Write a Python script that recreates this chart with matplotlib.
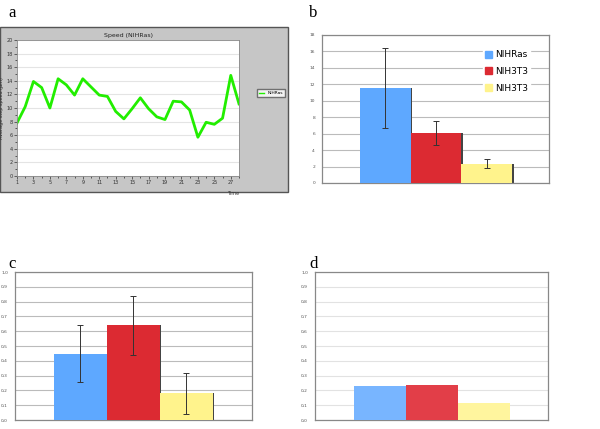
import matplotlib
matplotlib.use("Agg")
import matplotlib.pyplot as plt
from matplotlib.patches import Rectangle
from matplotlib.lines import Line2D
import numpy as np

# ---- data ----
times = list(range(1, 29))
speed = [7.8, 10.2, 13.9, 13.0, 10.0, 14.3, 13.4, 11.9, 14.3, 13.1, 11.9, 11.7,
         9.5, 8.4, 9.9, 11.5, 9.9, 8.7, 8.3, 11.0, 10.9, 9.7, 5.7, 7.9, 7.6, 8.5,
         14.8, 10.6]
groups = ["NIHRas", "NIH3T3", "NIH3T3"]
b_vals = [11.6, 6.1, 2.35]
b_err = [4.85, 1.5, 0.52]
c_vals = [0.449, 0.641, 0.18]
c_err = [0.19, 0.2, 0.14]
d_vals = [0.228, 0.237, 0.115]

W, H = 600, 429
fig = plt.figure(figsize=(6, 4.29), dpi=100)

def ax_px(x0, y0, x1, y1):
    return fig.add_axes([x0 / W, 1 - y1 / H, (x1 - x0) / W, (y1 - y0) / H])

# letters
for lab, x, y in [("a", 8, 17), ("b", 309, 17), ("c", 8, 268), ("d", 309, 268)]:
    fig.text(x / W, 1 - y / H, lab, fontsize=12, family="Liberation Serif")

# ---- panel a ----
fig.patches.append(Rectangle((0, 1 - 192 / H), 288 / W, (192 - 27) / H,
                             transform=fig.transFigure, facecolor="#c6c6c6",
                             edgecolor="#555555", lw=1.0, zorder=-5))
axa = ax_px(17, 40, 239, 176)
axa.set_zorder(3)
axa.plot(times, speed, color="#22ee00", lw=2.0)
axa.set_xlim(1, 28)
axa.set_ylim(0, 20)
axa.set_yticks(np.arange(0, 21, 2))
axa.set_yticks(np.arange(0, 21, 1), minor=True)
axa.set_xticks(times, minor=True)
axa.set_xticks(list(range(1, 28, 2)))
axa.tick_params(labelsize=3.5, length=2, width=0.5, pad=1, colors="#333333")
axa.tick_params(which="minor", length=1.2, width=0.4)
axa.grid(axis="y", color="#e4e4e4", lw=0.8)
axa.set_axisbelow(True)
for s in axa.spines.values():
    s.set_color("#888888")
    s.set_linewidth(0.6)
axa.set_title("Speed (NIHRas)", fontsize=4.5, pad=2, color="#222222")
axa.set_ylabel("Average step speed (µm)", fontsize=3.5, labelpad=2, color="#333333")
axa.text(1.0, -0.11, "Time", transform=axa.transAxes, fontsize=3.5, ha="right",
         va="top", color="#333333")
leg = axa.legend([Line2D([0], [0], color="#22ee00", lw=1)], ["NIHRas"],
                 loc="center left", bbox_to_anchor=(1.07, 0.61), fontsize=3.2,
                 frameon=True, fancybox=False, edgecolor="#555555",
                 handlelength=1.2, borderpad=0.4)

colors_bc = ["#5ea8ff", "#dc2a32", "#fff38c"]
colors_d = ["#78b5ff", "#e23e48", "#fff59e"]

def bar_panel(ax, vals, errs, colors, ymax, step, fmt, grid_col, shadow=True):
    x = np.arange(len(vals))
    if shadow:
        ax.bar(x + 0.03, vals, width=1.0, color="#444444", zorder=2)
    ax.bar(x, vals, width=1.0, color=colors, zorder=3)
    if errs is not None:
        ax.errorbar(x, vals, yerr=errs, fmt="none", ecolor="#333333",
                    elinewidth=0.7, capsize=2, capthick=0.7, zorder=4)
    ax.set_xlim(-1.25, 3.23)
    ax.set_ylim(0, ymax)
    ticks = np.arange(0, ymax + step / 2, step)
    ax.set_yticks(ticks)
    ax.set_yticklabels([fmt(t) for t in ticks])
    ax.set_xticks([])
    ax.tick_params(labelsize=3.2, length=0, pad=5, colors="#555555")
    ax.grid(axis="y", color=grid_col, lw=0.8)
    ax.set_axisbelow(True)
    for s in ax.spines.values():
        s.set_color("#888888")
        s.set_linewidth(0.9)

axb = ax_px(322, 35, 549, 183)
bar_panel(axb, b_vals, b_err, colors_bc, 18, 2, lambda t: f"{t:.0f}", "#bbbbbb")
handles = [Rectangle((0, 0), 1, 1, color=c) for c in colors_bc]
axb.legend(handles, groups, loc="upper left", bbox_to_anchor=(0.69, 0.94),
           fontsize=6.5, frameon=True, framealpha=1, edgecolor="white",
           handlelength=0.8, handleheight=0.8, labelspacing=0.85,
           handletextpad=0.3, borderpad=0.2)

axc = ax_px(15, 272, 252, 420)
bar_panel(axc, c_vals, c_err, colors_bc, 1.0, 0.1,
          lambda t: f"{t:.1f}".replace(".", ","), "#bbbbbb")
axc.set_xlim(-1.23, 3.24)

axd = ax_px(315, 272, 548, 420)
bar_panel(axd, d_vals, None, colors_d, 1.0, 0.1,
          lambda t: f"{t:.1f}".replace(".", ","), "#e2e2e2", shadow=False)
axd.set_xlim(-1.25, 3.23)

fig.savefig("out.png", dpi=100)
